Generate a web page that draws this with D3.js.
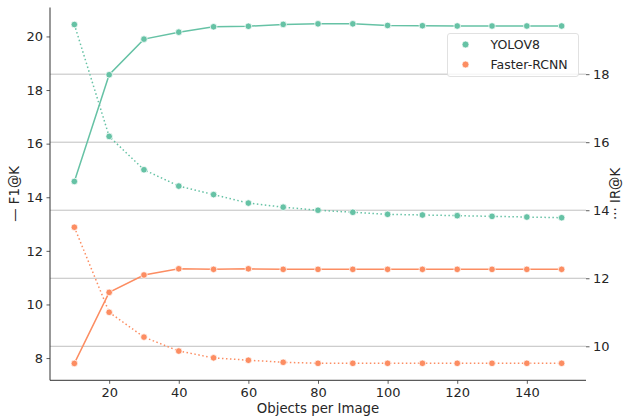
<!DOCTYPE html>
<html>
  <head>
    <meta http-equiv="Content-Type" content="text/html;charset=utf-8"/>
    <script type="text/javascript" src="https://cdn.jsdelivr.net/npm/d3@7"></script>
    <style type="text/css">
      body { margin: 0; background: #fff; }
      text { font-family: "DejaVu Sans", sans-serif; fill: #262626; }
    </style>
  </head>
  <body>
    <svg id="chart" width="624" height="416"></svg>
    <script type="text/javascript">

    var objects = [10, 20, 30, 40, 50, 60, 70, 80, 90, 100, 110, 120, 130, 140, 150];
    var yoloF1 = [14.59, 18.57, 19.9, 20.16, 20.36, 20.38, 20.45, 20.47, 20.47, 20.41, 20.4, 20.39, 20.39, 20.39, 20.39];
    var yoloIR = [19.46, 16.17, 15.19, 14.71, 14.46, 14.21, 14.09, 14.0, 13.94, 13.88, 13.86, 13.84, 13.82, 13.8, 13.78];
    var frcnnF1 = [7.8, 10.45, 11.1, 11.33, 11.31, 11.33, 11.31, 11.31, 11.31, 11.31, 11.31, 11.31, 11.31, 11.31, 11.31];
    var frcnnIR = [13.5, 11.0, 10.27, 9.86, 9.66, 9.59, 9.53, 9.5, 9.5, 9.5, 9.5, 9.5, 9.5, 9.5, 9.5];
    var xTicks = [20, 40, 60, 80, 100, 120, 140];
    var leftTicks = [8, 10, 12, 14, 16, 18, 20];
    var rightTicks = [10, 12, 14, 16, 18];
    var models = ["YOLOV8", "Faster-RCNN"];
    var colors = ["#66c2a5", "#fc8d62"];

    var pl = 50, pr = 586, pt = 7.5, pb = 380.3;
    var svg = d3.select("#chart");

    var x = d3.scaleLinear().domain([3, 157]).range([pl, pr]);
    var yL = d3.scaleLinear().domain([7.17, 21.08]).range([pb, pt]);
    var yR = d3.scaleLinear().domain([9.0, 19.96]).range([pb, pt]);

    // grid from the right axis
    svg.append("g").selectAll("line").data(rightTicks).enter().append("line")
        .attr("x1", pl).attr("x2", pr)
        .attr("y1", function(d) { return yR(d); })
        .attr("y2", function(d) { return yR(d); })
        .attr("stroke", "#b0b0b0").attr("stroke-width", 0.8);

    function styleAxis(g) {
      g.select(".domain").remove();
      g.selectAll(".tick line").attr("stroke", "#333").attr("stroke-width", 0.8);
      g.selectAll(".tick text").attr("font-size", "13px").attr("fill", "#262626")
        .attr("font-family", "DejaVu Sans");
    }

    svg.append("g").attr("transform", "translate(0," + pb + ")")
        .call(d3.axisBottom(x).tickValues(xTicks).tickSize(3.5).tickPadding(3.5))
        .call(styleAxis);
    svg.append("g").attr("transform", "translate(" + pl + ",0)")
        .call(d3.axisLeft(yL).tickValues(leftTicks).tickSize(3.5).tickPadding(3.5))
        .call(styleAxis);
    svg.append("g").attr("transform", "translate(" + pr + ",0)")
        .call(d3.axisRight(yR).tickValues(rightTicks).tickSize(3.5).tickPadding(3.5))
        .call(styleAxis);

    // spines
    svg.append("line").attr("x1", pl).attr("x2", pl).attr("y1", pt).attr("y2", pb)
        .attr("stroke", "#333").attr("stroke-width", 1);
    svg.append("line").attr("x1", pl).attr("x2", pr).attr("y1", pb).attr("y2", pb)
        .attr("stroke", "#333").attr("stroke-width", 1);

    var series = [
      {vals: yoloF1, y: yL, c: colors[0], dash: null},
      {vals: frcnnF1, y: yL, c: colors[1], dash: null},
      {vals: yoloIR, y: yR, c: colors[0], dash: "1.5,2.5"},
      {vals: frcnnIR, y: yR, c: colors[1], dash: "1.5,2.5"}
    ];

    series.forEach(function(s) {
      var line = d3.line()
          .x(function(d, i) { return x(objects[i]); })
          .y(function(d) { return s.y(d); });
      svg.append("path").datum(s.vals)
          .attr("d", line)
          .attr("fill", "none")
          .attr("stroke", s.c)
          .attr("stroke-width", 1.5)
          .attr("stroke-dasharray", s.dash);
      svg.append("g").selectAll("circle").data(s.vals).enter().append("circle")
          .attr("cx", function(d, i) { return x(objects[i]); })
          .attr("cy", function(d) { return s.y(d); })
          .attr("r", 3.3)
          .attr("fill", s.c)
          .attr("stroke", "#fff").attr("stroke-width", 0.75);
    });

    // axis labels
    svg.append("text").attr("x", (pl + pr) / 2).attr("y", 413)
        .attr("text-anchor", "middle").attr("font-size", "13.3px")
        .text("Objects per Image");
    svg.append("text")
        .attr("transform", "translate(19," + ((pt + pb) / 2) + ") rotate(-90)")
        .attr("text-anchor", "middle").attr("font-size", "13.3px")
        .text("— F1@K");
    svg.append("text")
        .attr("transform", "translate(620," + ((pt + pb) / 2) + ") rotate(-90)")
        .attr("text-anchor", "middle").attr("font-size", "13.3px")
        .text("··· IR@K");

    // legend
    var lg = svg.append("g").attr("transform", "translate(447.5,33.5)");
    lg.append("rect").attr("width", 131).attr("height", 43).attr("rx", 2.5)
        .attr("fill", "#fff").attr("fill-opacity", 0.8)
        .attr("stroke", "#d9d9d9").attr("stroke-width", 0.8);
    models.forEach(function(m, i) {
      lg.append("circle").attr("cx", 18).attr("cy", 11 + i * 20).attr("r", 3.5)
          .attr("fill", colors[i]).attr("stroke", "#fff").attr("stroke-width", 0.75);
      lg.append("text").attr("x", 43).attr("y", 11 + i * 20).attr("dy", "0.35em")
          .attr("font-size", "12.5px").text(m);
    });

    </script>
  </body>
</html>
